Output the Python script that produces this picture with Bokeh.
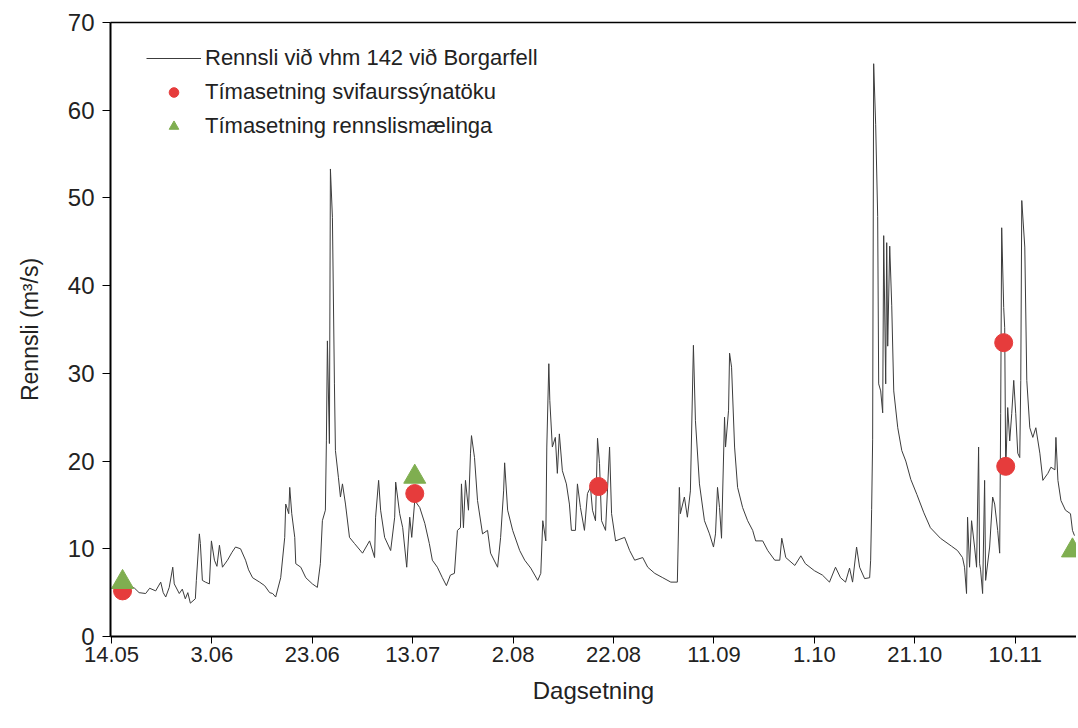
from bokeh.plotting import figure
from bokeh.models import ColumnDataSource, FixedTicker, LinearAxis, Range1d, Legend, LegendItem
from bokeh.embed import file_html
from bokeh.resources import INLINE

# Days since 14 May
dagur = [1.2, 2.5, 3.5, 4.6, 5.5, 6.8, 7.6, 8.8, 9.8, 10.3, 10.8, 11.5, 12.2, 12.5, 13.5, 14.1, 14.7, 15.2, 15.7, 16.7,
         16.9, 17.5, 17.7, 18.1, 18.7, 19.5, 19.9, 20.5, 21.0, 21.5, 22.1, 23.1, 24.0, 24.7, 25.7, 26.7, 27.3, 28.1, 29.5, 30.5,
         31.5, 32.1, 32.7, 33.7, 34.5, 34.7, 35.3, 35.5, 35.9, 36.5, 36.7, 37.7, 38.7, 40.0, 41.0, 41.6, 42.0, 42.6, 42.8, 43.0,
         43.4, 43.6, 44.0, 44.4, 44.6, 45.2, 45.6, 46.0, 46.6, 47.4, 48.4, 50.0, 51.4, 52.4, 52.6, 53.2, 53.6, 54.4, 55.6, 56.4,
         56.6, 57.4, 58.0, 58.8, 59.4, 59.8, 60.4, 61.4, 62.4, 63.3, 63.9, 64.9, 65.9, 66.7, 67.5, 68.3, 68.9, 69.5, 69.7, 70.1,
         70.5, 71.1, 71.5, 71.7, 72.3, 72.9, 73.9, 74.9, 75.5, 76.9, 77.5, 78.1, 78.3, 78.9, 79.9, 81.3, 82.3, 83.5, 84.9, 85.5,
         85.9, 86.5, 86.7, 87.1, 87.3, 87.8, 88.4, 88.8, 89.2, 89.8, 90.6, 91.2, 91.6, 92.4, 92.8, 93.4, 94.2, 94.8, 95.4, 95.8,
         96.4, 96.8, 97.2, 97.6, 98.4, 99.2, 99.6, 100.4, 102.2, 103.2, 104.2, 105.8, 106.8, 108.2, 109.8, 111.4, 112.7, 113.1, 113.3, 114.1,
         114.7, 115.3, 115.9, 116.3, 117.1, 118.1, 119.1, 119.9, 120.3, 120.7, 121.1, 121.5, 122.1, 122.3, 122.9, 123.1, 123.5, 124.1, 124.7, 125.7,
         126.7, 127.7, 128.3, 129.7, 130.7, 132.1, 133.1, 133.5, 134.3, 136.1, 137.3, 138.2, 140.0, 141.6, 143.0, 144.2, 145.2, 146.2, 147.0, 147.6,
         148.4, 149.0, 150.0, 151.0, 151.2, 151.4, 151.6, 151.8, 152.2, 152.6, 152.8, 153.2, 153.6, 153.8, 154.2, 154.4, 154.6, 155.0, 155.4, 155.8,
         156.6, 157.4, 158.2, 159.2, 160.4, 161.8, 163.1, 165.1, 167.3, 168.5, 169.5, 169.9, 170.3, 170.5, 170.9, 171.3, 171.9, 172.3, 172.7, 172.9,
         173.1, 173.5, 173.9, 174.1, 174.9, 175.5, 175.9, 176.5, 176.9, 177.1, 177.3, 177.7, 177.9, 178.1, 178.5, 178.9, 179.3, 179.7, 180.1, 180.5,
         180.9, 181.1, 181.3, 181.9, 182.3, 182.9, 183.5, 184.1, 184.9, 185.5, 186.5, 187.1, 187.9, 188.1, 188.5, 189.1, 190.0, 191.0, 191.4, 191.8]

rennsli = [6.0, 5.6, 5.8, 5.5, 5.0, 4.9, 5.5, 5.2, 6.2, 5.0, 4.5, 5.6, 7.9, 6.0, 4.9, 5.4, 4.3, 5.0, 3.8, 4.3,
           6.4, 11.7, 10.6, 6.4, 6.2, 6.0, 10.9, 8.7, 8.0, 10.4, 7.9, 8.7, 9.6, 10.2, 10.0, 8.7, 7.6, 6.7, 6.2, 5.8,
           5.0, 4.9, 4.5, 6.7, 11.3, 15.1, 14.0, 17.0, 14.0, 11.3, 8.3, 7.9, 6.7, 6.0, 5.6, 8.3, 13.2, 14.4, 22.3, 33.7,
           22.0, 53.3, 47.8, 28.8, 21.2, 18.1, 15.9, 17.4, 15.1, 11.3, 10.6, 9.5, 10.9, 9.0, 13.6, 17.8, 14.4, 11.3, 9.8, 13.6,
           17.6, 14.0, 12.4, 7.9, 13.6, 11.3, 15.5, 14.7, 12.9, 10.6, 8.7, 7.9, 6.7, 5.8, 7.0, 7.2, 12.1, 12.4, 17.4, 12.4,
           17.8, 14.4, 20.9, 22.9, 20.4, 15.5, 11.7, 12.1, 9.5, 7.9, 11.3, 16.6, 19.8, 14.4, 12.1, 9.8, 8.7, 7.8, 6.4, 7.2,
           13.2, 10.9, 21.6, 31.1, 26.9, 21.6, 22.7, 18.6, 23.1, 18.9, 17.4, 15.1, 12.1, 12.1, 17.4, 14.7, 12.1, 16.3, 17.0, 14.4,
           13.2, 22.6, 19.7, 13.2, 12.1, 21.6, 14.0, 10.9, 11.3, 9.8, 8.7, 9.0, 7.9, 7.2, 6.7, 6.2, 6.2, 17.0, 14.0, 15.9,
           13.6, 16.6, 33.2, 24.6, 17.4, 13.2, 11.7, 10.2, 11.7, 17.0, 14.7, 11.2, 25.0, 21.6, 25.8, 32.3, 30.7, 21.6, 17.0, 14.7,
           13.2, 12.1, 10.9, 10.9, 9.8, 8.7, 8.7, 11.2, 9.0, 8.1, 9.2, 8.3, 7.5, 7.0, 6.2, 7.9, 6.7, 6.2, 7.8, 6.2,
           10.2, 7.9, 6.6, 6.7, 8.7, 14.5, 22.5, 65.3, 58.4, 47.9, 28.8, 28.0, 25.5, 45.7, 28.8, 44.9, 33.1, 44.5, 37.7, 28.0,
           23.8, 21.2, 20.0, 17.9, 16.2, 14.1, 12.4, 11.2, 10.3, 9.8, 9.0, 7.9, 4.9, 13.6, 7.9, 13.2, 10.2, 7.9, 21.6, 8.3,
           7.6, 4.9, 17.8, 6.4, 10.2, 15.9, 15.1, 12.1, 9.5, 25.4, 46.6, 37.5, 35.2, 18.9, 26.1, 22.3, 25.4, 29.2, 25.4, 20.9,
           20.4, 29.2, 49.7, 44.4, 29.2, 23.8, 22.7, 23.8, 20.9, 17.8, 18.6, 19.3, 19.0, 22.7, 17.8, 15.5, 14.4, 14.0, 12.1, 11.5]

# Sediment sampling times (red circles)
syni_dagur = [2.2, 60.4, 97.0, 177.7, 178.1]
syni_rennsli = [5.2, 16.3, 17.1, 33.5, 19.4]

# Discharge measurement times (green triangles)
maeling_dagur = [2.2, 60.4, 191.4]
maeling_rennsli = [6.2, 18.2, 9.8]

tick_days = [0, 20, 40, 60, 80, 100, 120, 140, 160, 180]
tick_labels = ["14.05", "3.06", "23.06", "13.07", "2.08", "22.08", "11.09", "1.10", "21.10", "10.11"]
y_ticks = [0, 10, 20, 30, 40, 50, 60, 70]

FONT = "Liberation Sans"

p = figure(width=1076, height=726, output_backend="svg", toolbar_location=None,
           x_range=Range1d(-0.2, 192.2), y_range=Range1d(0, 70),
           min_border_left=110, min_border_right=0, min_border_top=22, min_border_bottom=90)
p.outline_line_color = None
p.xgrid.grid_line_color = None
p.ygrid.grid_line_color = None
p.background_fill_color = "white"

line_src = ColumnDataSource(dict(x=dagur, y=rennsli))
r_line = p.line("x", "y", source=line_src, line_color="#3c3c3c", line_width=1)
r_circ = p.scatter(syni_dagur, syni_rennsli, marker="circle", size=18,
                   fill_color="#e63c3c", line_color="#e63c3c")
r_tri = p.scatter(maeling_dagur, maeling_rennsli, marker="triangle", size=22,
                  fill_color="#7fae50", line_color="#7fae50")

xa = p.xaxis[0]
xa.ticker = FixedTicker(ticks=tick_days)
xa.major_label_overrides = {d: l for d, l in zip(tick_days, tick_labels)}
xa.minor_tick_line_color = None
xa.major_tick_in = 0
xa.major_tick_out = 7
xa.axis_line_width = 2
xa.axis_line_color = "black"
xa.major_label_text_font = FONT
xa.major_label_text_font_size = "22px"
xa.major_label_text_color = "#222222"
xa.major_label_standoff = 3
xa.axis_label = "Dagsetning"
xa.axis_label_text_font = FONT
xa.axis_label_text_font_size = "24px"
xa.axis_label_text_font_style = "normal"
xa.axis_label_text_color = "#222222"
xa.axis_label_standoff = 12

ya = p.yaxis[0]
ya.ticker = FixedTicker(ticks=y_ticks)
ya.minor_tick_line_color = None
ya.major_tick_in = 0
ya.major_tick_out = 8
ya.axis_line_width = 2
ya.axis_line_color = "black"
ya.major_label_text_font = FONT
ya.major_label_text_font_size = "24px"
ya.major_label_text_color = "#222222"
ya.major_label_standoff = 8
ya.axis_label = "Rennsli (m³/s)"
ya.axis_label_text_font = FONT
ya.axis_label_text_font_size = "23px"
ya.axis_label_text_font_style = "normal"
ya.axis_label_text_color = "#222222"
ya.axis_label_standoff = 22

top = LinearAxis(ticker=FixedTicker(ticks=[]), major_tick_line_color=None, minor_tick_line_color=None,
                 axis_line_width=1.5, axis_line_color="black")
p.add_layout(top, "above")

legend = Legend(items=[
    LegendItem(label="Rennsli við vhm 142 við Borgarfell", renderers=[r_line]),
    LegendItem(label="Tímasetning svifaurssýnatöku", renderers=[r_circ]),
    LegendItem(label="Tímasetning rennslismælinga", renderers=[r_tri]),
], location=(36, 497))
legend.border_line_color = None
legend.background_fill_alpha = 0
legend.label_text_font = FONT
legend.label_text_font_size = "22px"
legend.label_text_color = "#222222"
legend.glyph_width = 55
legend.glyph_height = 24
legend.label_height = 24
legend.spacing = 8
legend.padding = 5
legend.margin = 0
legend.label_standoff = 4
p.add_layout(legend, "center")

open("out.html", "w").write(file_html(p, INLINE))
